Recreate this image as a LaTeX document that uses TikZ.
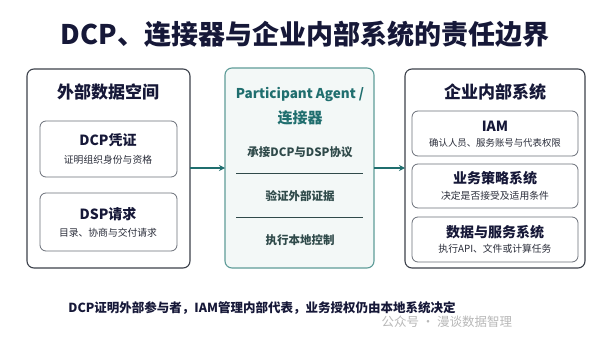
\documentclass[tikz,border=0pt]{standalone}
\usepackage{fontspec}
\setmainfont{Noto Sans CJK SC}
\usetikzlibrary{arrows.meta}
\definecolor{navy}{HTML}{161838}
\definecolor{boxline}{HTML}{3C414B}
\definecolor{innerline}{HTML}{6A6F78}
\definecolor{teal}{HTML}{1F6E6E}
\definecolor{tealline}{HTML}{5E9C98}
\definecolor{tealfill}{HTML}{F3F8F7}
\definecolor{subtext}{HTML}{2A2D3A}
\definecolor{midtext}{HTML}{2F4A4A}
\tikzset{
  outer/.style={draw=boxline, line width=1.1pt, rounded corners=7pt, fill=white},
  inner/.style={draw=innerline, line width=0.8pt, rounded corners=6pt, fill=white},
  midbox/.style={draw=tealline, line width=1.1pt, rounded corners=7pt, fill=tealfill},
  flow/.style={draw=teal, line width=1.1pt, -{Stealth[length=6pt,width=6pt]}},
  sep/.style={draw=midtext, line width=0.7pt},
  bigtitle/.style={font=\fontsize{27}{30}\selectfont\bfseries, text=navy},
  grouptitle/.style={font=\fontsize{17}{20}\selectfont\bfseries, text=navy},
  itemtitle/.style={font=\fontsize{14}{17}\selectfont\bfseries, text=navy},
  itemsub/.style={font=\fontsize{9.8}{12}\selectfont, text=subtext},
  midtitle/.style={font=\fontsize{13.5}{17}\selectfont\bfseries, text=teal},
  miditem/.style={font=\fontsize{11.5}{14}\selectfont\bfseries, text=midtext},
  note/.style={font=\fontsize{12.5}{15}\selectfont\bfseries, text=navy},
  wmark/.style={font=\fontsize{12.5}{15}\selectfont, text=black!28}
}
\begin{document}
\begin{tikzpicture}[x=1pt,y=-1pt]
\useasboundingbox[fill=white] (0,0) rectangle (612,345);
\node[bigtitle] (title) at (305,34) {DCP、连接器与企业内部系统的责任边界};

% left group
\draw[outer] (27,69) rectangle (190,268);
\node[grouptitle] (lt) at (108,92) {外部数据空间};
\draw[inner] (40,121) rectangle (177,177);
\node[itemtitle] (dcp) at (108,140) {DCP凭证};
\node[itemsub] (dcps) at (108,160) {证明组织身份与资格};
\draw[inner] (40,193) rectangle (177,251);
\node[itemtitle] (dsp) at (108,214) {DSP请求};
\node[itemsub] (dsps) at (108,233) {目录、协商与交付请求};
\coordinate (lout) at (190,168);

% middle
\draw[midbox] (225,68) rectangle (374,268);
\coordinate (min) at (225,168);
\coordinate (mout) at (374,168);
\node[midtitle] (pa) at (300,95) {Participant Agent /};
\node[midtitle, font=\fontsize{15}{18}\selectfont\bfseries] (con) at (300,118) {连接器};
\node[miditem] (m1) at (300,152) {承接DCP与DSP协议};
\coordinate (s1a) at (236,173);
\coordinate (s1b) at (363,173);
\draw[sep] (s1a) -- (s1b);
\node[miditem] (m2) at (300,196) {验证外部证据};
\coordinate (s2a) at (236,217);
\coordinate (s2b) at (363,217);
\draw[sep] (s2a) -- (s2b);
\node[miditem] (m3) at (300,240) {执行本地控制};

% right group
\draw[outer] (405,69) rectangle (585,268);
\coordinate (rin) at (405,168);
\node[grouptitle] (rt) at (495,92) {企业内部系统};
\draw[inner] (412,111) rectangle (578,156);
\node[itemtitle] (iam) at (495,126) {IAM};
\node[itemsub, font=\fontsize{9.4}{12}\selectfont] (iams) at (495,143) {确认人员、服务账号与代表权限};
\draw[inner] (412,164) rectangle (578,208);
\node[itemtitle] (bp) at (495,178) {业务策略系统};
\node[itemsub] (bps) at (495,196) {决定是否接受及适用条件};
\draw[inner] (412,217) rectangle (578,262);
\node[itemtitle] (ds) at (495,232) {数据与服务系统};
\node[itemsub] (dss) at (495,249) {执行API、文件或计算任务};

% arrows
\draw[flow] (lout) -- (min);
\draw[flow] (mout) -- (rin);

% footer
\node[note] (foot) at (262,308) {DCP证明外部参与者，IAM管理内部代表，业务授权仍由本地系统决定};
\node[wmark, anchor=west] (wm) at (378,322) {公众号 · 漫谈数据智理};
\end{tikzpicture}
\end{document}
